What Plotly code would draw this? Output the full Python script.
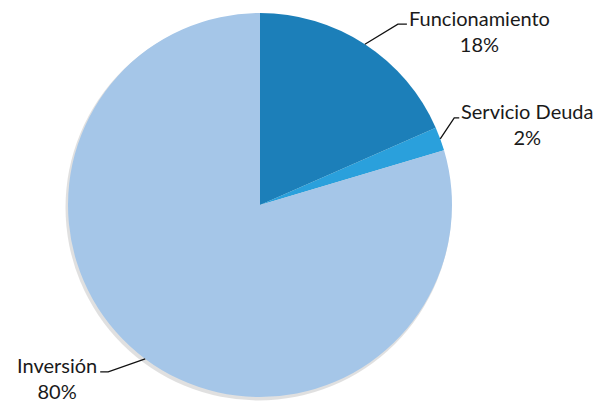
import math
import plotly.graph_objects as go

categories = ["Funcionamiento", "Servicio Deuda", "Inversión"]
values = [18.4, 2.0, 79.6]
colors = ["#1c7fb9", "#2aa0dc", "#a5c6e8"]

W, H = 601, 401
OFF = 8  # page body margin offset
cx, cy, R = 260 - OFF, 205 - OFF, 192

# label styling offsets (pixels)
label_style = {
    "Funcionamiento": dict(knee=(33, -20), end=9),
    "Servicio Deuda": dict(knee=(14, -21), end=5),
    "Inversión": dict(knee=(-37, 13), end=-8),
}


def dom(x0, y0, r):
    return dict(x=[(x0 - r) / W, (x0 + r) / W], y=[(H - y0 - r) / H, (H - y0 + r) / H])


fig = go.Figure()
# soft shadow under the pie
fig.add_trace(go.Pie(
    labels=["shadow"], values=[1], marker=dict(colors=["rgba(0,0,0,0.12)"], line=dict(width=0)),
    textinfo="none", hoverinfo="skip", showlegend=False, sort=False,
    domain=dom(cx - 1.5, cy + 2.5, R + 1),
))
fig.add_trace(go.Pie(
    labels=categories, values=values, sort=False, direction="clockwise",
    rotation=0, marker=dict(colors=colors, line=dict(width=0)),
    textinfo="none", hoverinfo="label+percent", showlegend=False,
    domain=dom(cx, cy, R),
))


def px(x):
    return x / W


def py(y):
    return (H - y) / H


total = sum(values)
cum = 0
shapes, annots = [], []
font = dict(family="Lato", size=20, color="#1a1a1a")
for cat, v in zip(categories, values):
    mid = (cum + v / 2) / total * 2 * math.pi
    cum += v
    ex = cx + R * math.sin(mid)
    ey = cy - R * math.cos(mid)
    st = label_style[cat]
    kx, ky = ex + st["knee"][0], ey + st["knee"][1]
    tx = kx + st["end"]
    shapes.append(dict(type="path", xref="paper", yref="paper",
                       path=f"M {px(ex)},{py(ey)} L {px(kx)},{py(ky)} L {px(tx)},{py(ky)}",
                       line=dict(color="#111", width=1.3)))
    pct = f"{round(v / total * 100)}%"
    left = st["end"] > 0
    annots.append(dict(x=px(tx + (0 if left else -1)), y=py(ky + 6.5), xref="paper", yref="paper",
                       text=f"{cat}<br>{pct}", align="center", showarrow=False,
                       xanchor="left" if left else "right", yanchor="middle", font=font))

fig.update_layout(width=W, height=H, margin=dict(l=0, r=0, t=0, b=0),
                  paper_bgcolor="white", plot_bgcolor="white",
                  shapes=shapes, annotations=annots)
fig.write_html("out.html")
